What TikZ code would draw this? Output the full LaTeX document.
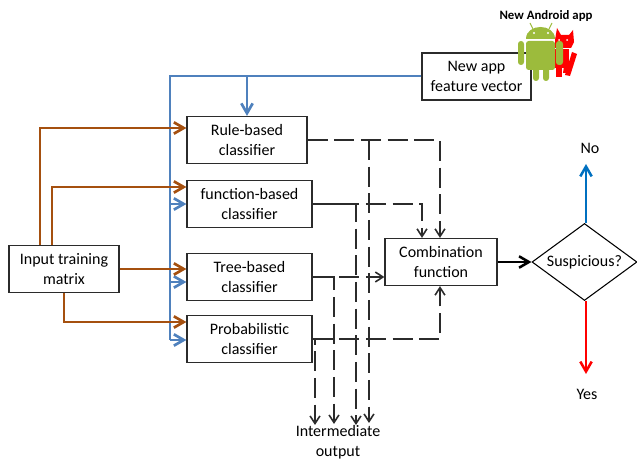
\documentclass[tikz,border=0pt]{standalone}
\usepackage{fontspec}
\setmainfont{Carlito}
\usetikzlibrary{arrows.meta,shapes.geometric}
\definecolor{brownline}{HTML}{A5500F}
\definecolor{blueline}{HTML}{4F81BD}
\definecolor{noblue}{HTML}{0070C0}
\definecolor{droidgreen}{HTML}{9CBB3C}
\definecolor{boxline}{HTML}{2B2B2B}
\begin{document}
\begin{tikzpicture}[x=0.75pt,y=-0.75pt,font=\fontsize{12pt}{15pt}\selectfont,>={Straight Barb[length=2.6mm,width=3mm]}]
    \tikzstyle{classifier}=[rectangle,draw=boxline,line width=0.9pt,fill=white,inner sep=0pt,align=center,minimum height=35.25pt];
    \tikzstyle{trainflow}=[->,draw=brownline,line width=2pt];
    \tikzstyle{appflow}=[->,draw=blueline,line width=2pt];
    \tikzstyle{dashflow}=[draw=boxline,line width=1.2pt,dash pattern=on 15pt off 5pt];
    \tikzstyle{dashtip}=[dashflow,->,>={Straight Barb[length=2mm,width=2.6mm]}];
    \tikzstyle{branchtip}=[dashtip,dash phase=9pt];
    \useasboundingbox (0,0) rectangle (637,460);

    \node[classifier,minimum width=82.5pt] (input) at (64,269) {Input training\\matrix};
    \node[classifier,minimum width=90pt] (rule) at (247,140) {Rule-based\\classifier};
    \node[classifier,minimum width=93.75pt] (func) at (249.5,204) {function-based\\classifier};
    \node[classifier,minimum width=93.75pt] (tree) at (249.5,277) {Tree-based\\classifier};
    \node[classifier,minimum width=93.75pt] (prob) at (249.5,339) {Probabilistic\\classifier};
    \node[classifier,minimum width=84pt] (comb) at (441,262) {Combination\\function};
    \node[classifier,minimum width=81.75pt] (newapp) at (476.5,76.5) {New app\\feature vector};
    \node[diamond,aspect=1.36,draw=black,line width=0.8pt,inner sep=0pt,minimum width=78.75pt,minimum height=57.75pt] (susp) at (584.5,262) {Suspicious?};

    \node (no) at (590,148) {No};
    \node (yes) at (587,394) {Yes};
    \node[align=center] (inter) at (338,442) {Intermediate\\output};
    \node[font=\fontsize{9.6pt}{11pt}\selectfont\bfseries] (title) at (546,16) {New Android app};

    % blue feed
    \coordinate (bluetop) at (170,76);
    \coordinate (bluefunc) at (170,204);
    \coordinate (bluetree) at (170,282);
    \coordinate (blueprob) at (170,340);
    \draw[appflow,-] (newapp.west |- bluetop) -- (bluetop) -- (blueprob);
    \draw[appflow] (rule.north |- bluetop) -- (rule.north);
    \draw[appflow] (bluefunc) -- (bluefunc -| func.west);
    \draw[appflow] (bluetree) -- (bluetree -| tree.west);
    \draw[appflow] (blueprob) -- (blueprob -| prob.west);

    % brown feed
    \coordinate (trainrule) at (40,128);
    \coordinate (trainfunc) at (52,187);
    \coordinate (trainprob) at (64,322);
    \draw[trainflow] (trainrule |- input.north) -- (trainrule) -- (trainrule -| rule.west);
    \draw[trainflow] (trainfunc |- input.north) -- (trainfunc) -- (trainfunc -| func.west);
    \draw[trainflow] (input.east) -- (input.east -| tree.west);
    \draw[trainflow] (input.south) -- (trainprob) -- (trainprob -| prob.west);

    % dashed outputs
    \coordinate (funcin) at (422,204);
    \coordinate (rulein) at (440,140);
    \coordinate (probin) at (440,339);
    \draw[dashtip] (rule.east) -- (rulein) -- (rulein |- comb.north);
    \draw[dashtip] (func.east) -- (funcin) -- (funcin |- comb.north);
    \draw[dashtip] (tree.east) -- (tree.east -| comb.west);
    \draw[dashtip] (prob.east) -- (probin) -- (probin |- comb.south);

    \coordinate (outrule) at (369,423);
    \coordinate (outfunc) at (356,425);
    \coordinate (outtree) at (334,424);
    \coordinate (outprob) at (315,425);
    \draw[dashtip] (outrule |- rule.east) -- (outrule);
    \draw[branchtip] (func.east) -- (outfunc |- func.east) -- (outfunc);
    \draw[branchtip] (tree.east) -- (outtree |- tree.east) -- (outtree);
    \draw[branchtip] (prob.east) -- (outprob |- prob.east) -- (outprob);

    % decision
    \draw[->,line width=1.9pt] (comb.east) -- (susp.west);
    \coordinate (noend) at (586,164);
    \coordinate (yesend) at (586,374);
    \draw[->,draw=noblue,line width=1.9pt] (noend |- susp.north) -- (noend);
    \draw[->,draw=red,line width=1.9pt] (yesend |- susp.south) -- (yesend);

    % android icon
    \fill[red] (555,40) -- (557,28) -- (561,35) -- (569,35) -- (573,30) -- (574,42) -- (571,48) -- (555,48) -- cycle;
    \fill[red] (555,49) rectangle (569,68);
    \fill[red] (556,66) rectangle (562,77);
    \fill[red] (564,66) -- (570,66) -- (567,73) -- (563,73) -- cycle;
    \fill[red] (572,52) -- (577,54) -- (570,76) -- (565,75) -- cycle;
    \fill[white] (559,40) circle (1) (567,40) circle (1);
    \draw[droidgreen,line width=0.8pt] (533,29) -- (530,23) (549,29) -- (552,23);
    \fill[droidgreen] (526,39) .. controls (526,23) and (555,23) .. (555,39) -- cycle;
    \fill[white] (534,33) circle (1.2) (548,33) circle (1.2);
    \fill[droidgreen,rounded corners=2pt] (526,41) -- (555,41) -- (555,70) -- (526,70) -- cycle;
    \fill[droidgreen,rounded corners=2.2pt] (518,41) rectangle (524,65);
    \fill[droidgreen,rounded corners=2.2pt] (556,41) rectangle (563,65);
    \fill[droidgreen,rounded corners=2.2pt] (533,65) rectangle (539,81);
    \fill[droidgreen,rounded corners=2.2pt] (543,65) rectangle (549,81);
\end{tikzpicture}
\end{document}
